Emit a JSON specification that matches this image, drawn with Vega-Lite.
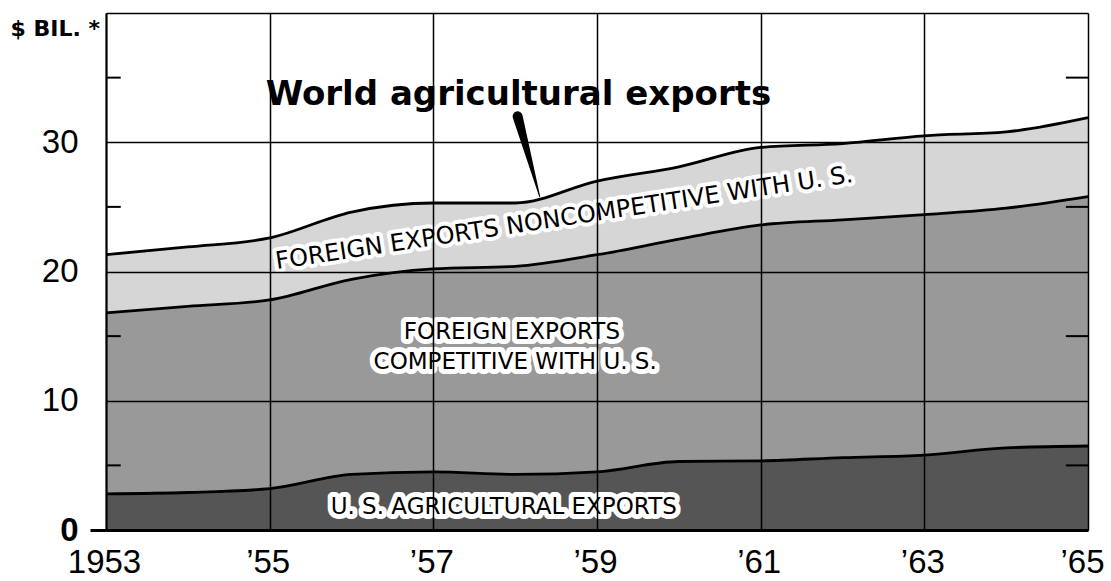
{
  "$schema": "https://vega.github.io/schema/vega-lite/v6.json",
  "width": 982,
  "height": 517,
  "autosize": {"type": "none"},
  "padding": {"left": 106, "top": 13, "right": 23, "bottom": 51},
  "background": "white",
  "config": {"view": {"stroke": null}},
  "datasets": {
    "exports": [
      {"year": 1953, "series": "U. S. agricultural exports", "order": 1, "value": 2.8},
      {"year": 1954, "series": "U. S. agricultural exports", "order": 1, "value": 2.9},
      {"year": 1955, "series": "U. S. agricultural exports", "order": 1, "value": 3.2},
      {"year": 1956, "series": "U. S. agricultural exports", "order": 1, "value": 4.3},
      {"year": 1957, "series": "U. S. agricultural exports", "order": 1, "value": 4.5},
      {"year": 1958, "series": "U. S. agricultural exports", "order": 1, "value": 4.3},
      {"year": 1959, "series": "U. S. agricultural exports", "order": 1, "value": 4.5},
      {"year": 1960, "series": "U. S. agricultural exports", "order": 1, "value": 5.3},
      {"year": 1961, "series": "U. S. agricultural exports", "order": 1, "value": 5.35},
      {"year": 1962, "series": "U. S. agricultural exports", "order": 1, "value": 5.6},
      {"year": 1963, "series": "U. S. agricultural exports", "order": 1, "value": 5.8},
      {"year": 1964, "series": "U. S. agricultural exports", "order": 1, "value": 6.35},
      {"year": 1965, "series": "U. S. agricultural exports", "order": 1, "value": 6.5},
      {"year": 1953, "series": "Foreign exports competitive with U. S.", "order": 2, "value": 14.0},
      {"year": 1954, "series": "Foreign exports competitive with U. S.", "order": 2, "value": 14.4},
      {"year": 1955, "series": "Foreign exports competitive with U. S.", "order": 2, "value": 14.6},
      {"year": 1956, "series": "Foreign exports competitive with U. S.", "order": 2, "value": 15.1},
      {"year": 1957, "series": "Foreign exports competitive with U. S.", "order": 2, "value": 15.7},
      {"year": 1958, "series": "Foreign exports competitive with U. S.", "order": 2, "value": 16.1},
      {"year": 1959, "series": "Foreign exports competitive with U. S.", "order": 2, "value": 16.8},
      {"year": 1960, "series": "Foreign exports competitive with U. S.", "order": 2, "value": 17.2},
      {"year": 1961, "series": "Foreign exports competitive with U. S.", "order": 2, "value": 18.25},
      {"year": 1962, "series": "Foreign exports competitive with U. S.", "order": 2, "value": 18.4},
      {"year": 1963, "series": "Foreign exports competitive with U. S.", "order": 2, "value": 18.6},
      {"year": 1964, "series": "Foreign exports competitive with U. S.", "order": 2, "value": 18.55},
      {"year": 1965, "series": "Foreign exports competitive with U. S.", "order": 2, "value": 19.3},
      {"year": 1953, "series": "Foreign exports noncompetitive with U. S.", "order": 3, "value": 4.5},
      {"year": 1954, "series": "Foreign exports noncompetitive with U. S.", "order": 3, "value": 4.6},
      {"year": 1955, "series": "Foreign exports noncompetitive with U. S.", "order": 3, "value": 4.8},
      {"year": 1956, "series": "Foreign exports noncompetitive with U. S.", "order": 3, "value": 5.2},
      {"year": 1957, "series": "Foreign exports noncompetitive with U. S.", "order": 3, "value": 5.1},
      {"year": 1958, "series": "Foreign exports noncompetitive with U. S.", "order": 3, "value": 4.9},
      {"year": 1959, "series": "Foreign exports noncompetitive with U. S.", "order": 3, "value": 5.7},
      {"year": 1960, "series": "Foreign exports noncompetitive with U. S.", "order": 3, "value": 5.6},
      {"year": 1961, "series": "Foreign exports noncompetitive with U. S.", "order": 3, "value": 6.0},
      {"year": 1962, "series": "Foreign exports noncompetitive with U. S.", "order": 3, "value": 5.9},
      {"year": 1963, "series": "Foreign exports noncompetitive with U. S.", "order": 3, "value": 6.1},
      {"year": 1964, "series": "Foreign exports noncompetitive with U. S.", "order": 3, "value": 5.9},
      {"year": 1965, "series": "Foreign exports noncompetitive with U. S.", "order": 3, "value": 6.1}
    ],
    "minorTicks": [{"value": 5}, {"value": 15}, {"value": 25}, {"value": 35}],
    "pointer": [{"year": 1958.03, "value": 32.0}, {"year": 1958.3, "value": 25.8}]
  },
  "layer": [
    {
      "data": {"name": "exports"},
      "transform": [
        {"stack": "value", "groupby": ["year"], "sort": [{"field": "order", "order": "ascending"}], "as": ["v0", "v1"]}
      ],
      "encoding": {
        "x": {
          "field": "year", "type": "quantitative",
          "scale": {"domain": [1953, 1965], "nice": false, "zero": false},
          "axis": {
            "values": [1953, 1955, 1957, 1959, 1961, 1963, 1965],
            "labelExpr": "datum.value === 1953 ? '1953' : '’' + substring(toString(datum.value), 2)",
            "grid": true, "gridColor": "black", "gridWidth": 1.5, "gridOpacity": 1,
            "ticks": false, "tickSize": 0,
            "domainColor": "black", "domainWidth": 3,
            "labelFont": "Liberation Sans", "labelFontSize": 33, "labelColor": "black",
            "labelPadding": 16,
            "labelOffset": {"condition": {"test": "datum.value === 1965", "value": -6}, "value": -2},
            "labelFlush": false, "labelOverlap": false, "labelBound": false,
            "title": null, "zindex": 1
          }
        },
        "y": {
          "field": "v1", "type": "quantitative",
          "scale": {"domain": [0, 40], "nice": false},
          "axis": {
            "values": [0, 10, 20, 30, 40],
            "labelExpr": "datum.value === 40 ? '' : datum.label",
            "grid": true, "gridColor": "black", "gridWidth": 1.5, "gridOpacity": 1,
            "tickSize": 16, "tickWidth": 3,
            "tickColor": {"condition": {"test": "datum.value === 0", "value": "black"}, "value": "transparent"},
            "domainColor": "black", "domainWidth": 2,
            "labelFont": "Liberation Sans", "labelFontSize": 33, "labelColor": "black",
            "labelFontWeight": {"condition": {"test": "datum.value === 0", "value": "bold"}, "value": "normal"},
            "labelPadding": 12,
            "title": "$ BIL. *", "titleAngle": 0, "titleAlign": "left", "titleBaseline": "middle",
            "titleX": -96, "titleY": 15, "titleFont": "DejaVu Sans", "titleFontSize": 22,
            "titleFontWeight": "bold", "titleColor": "black",
            "zindex": 1
          }
        }
      },
      "layer": [
        {
          "mark": {"type": "area", "interpolate": "monotone"},
          "encoding": {
            "y2": {"field": "v0"},
            "color": {
              "field": "series", "type": "nominal",
              "scale": {
                "domain": ["U. S. agricultural exports", "Foreign exports competitive with U. S.", "Foreign exports noncompetitive with U. S."],
                "range": ["#555555", "#999999", "#d6d6d6"]
              },
              "legend": null
            }
          }
        },
        {
          "mark": {"type": "line", "interpolate": "monotone", "color": "black", "strokeWidth": 2.8},
          "encoding": {"detail": {"field": "series"}}
        }
      ]
    },
    {
      "data": {"name": "minorTicks"},
      "layer": [
        {
          "mark": {"type": "rule", "color": "black", "strokeWidth": 2},
          "encoding": {
            "x": {"datum": 1953}, "x2": {"datum": 1953.18},
            "y": {"field": "value", "type": "quantitative", "title": "$ BIL. *"}
          }
        },
        {
          "mark": {"type": "rule", "color": "black", "strokeWidth": 2},
          "encoding": {
            "x": {"datum": 1964.73}, "x2": {"datum": 1965},
            "y": {"field": "value", "type": "quantitative", "title": "$ BIL. *"}
          }
        }
      ]
    },
    {
      "data": {"name": "pointer"},
      "mark": {"type": "trail", "color": "black", "zindex": 2},
      "encoding": {
        "x": {"field": "year", "type": "quantitative"},
        "y": {"field": "value", "type": "quantitative", "title": "$ BIL. *"},
        "size": {"field": "value", "type": "quantitative", "scale": {"domain": [25.8, 32], "range": [1, 10]}, "legend": null}
      }
    },
    {
      "data": {"values": [{"year": 1958.04, "value": 33.66, "label": "World agricultural exports"}]},
      "encoding": {
        "x": {"field": "year", "type": "quantitative"},
        "y": {"field": "value", "type": "quantitative", "title": "$ BIL. *"},
        "text": {"field": "label"}
      },
      "layer": [
        {"mark": {"type": "text", "font": "DejaVu Sans", "fontWeight": "bold", "fontSize": 34, "fill": "white", "stroke": "white", "strokeWidth": 12, "strokeJoin": "round", "zindex": 2}},
        {"mark": {"type": "text", "font": "DejaVu Sans", "fontWeight": "bold", "fontSize": 34, "fill": "black", "zindex": 2}}
      ]
    },
    {
      "data": {"values": [
        {"year": 1957.86, "value": 1.78, "label": "U. S. AGRICULTURAL EXPORTS"},
        {"year": 1957.96, "value": 15.35, "label": "FOREIGN EXPORTS"},
        {"year": 1958.0, "value": 13.0, "label": "COMPETITIVE WITH U. S."}
      ]},
      "encoding": {
        "x": {"field": "year", "type": "quantitative"},
        "y": {"field": "value", "type": "quantitative", "title": "$ BIL. *"},
        "text": {"field": "label"}
      },
      "layer": [
        {"mark": {"type": "text", "font": "DejaVu Sans", "fontSize": 23, "fill": "white", "stroke": "white", "strokeWidth": 10, "strokeJoin": "round", "zindex": 2}},
        {"mark": {"type": "text", "font": "DejaVu Sans", "fontSize": 23, "fill": "black", "zindex": 2}}
      ]
    },
    {
      "data": {"values": [{"year": 1958.6, "value": 24.1, "label": "FOREIGN EXPORTS NONCOMPETITIVE WITH U. S."}]},
      "encoding": {
        "x": {"field": "year", "type": "quantitative"},
        "y": {"field": "value", "type": "quantitative", "title": "$ BIL. *"},
        "text": {"field": "label"}
      },
      "layer": [
        {"mark": {"type": "text", "font": "DejaVu Sans", "fontSize": 24, "angle": 351.4, "fill": "white", "stroke": "white", "strokeWidth": 8, "strokeJoin": "round", "zindex": 2}},
        {"mark": {"type": "text", "font": "DejaVu Sans", "fontSize": 24, "angle": 351.4, "fill": "black", "zindex": 2}}
      ]
    }
  ]
}
